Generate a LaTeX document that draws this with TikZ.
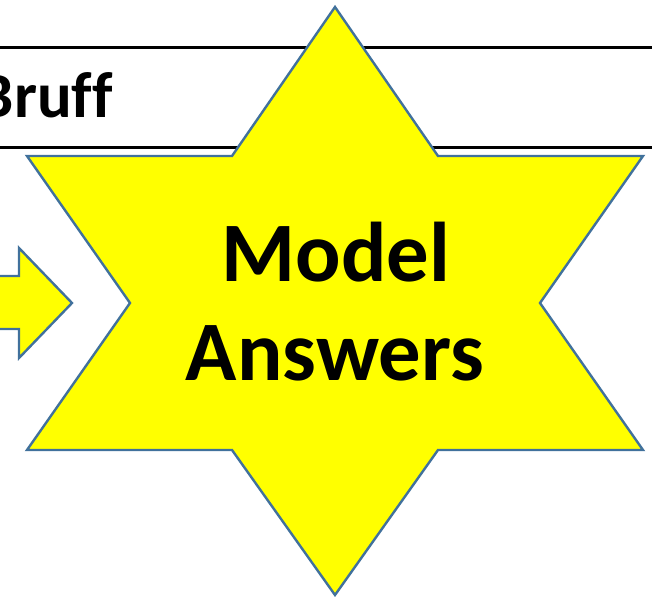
\documentclass[tikz,border=0pt]{standalone}
\usepackage{fontspec}
\setmainfont{Carlito}[Ligatures=NoCommon]
\usetikzlibrary{positioning}
\definecolor{starblue}{RGB}{65,113,156}
\definecolor{staryellow}{RGB}{255,255,0}

\begin{document}
\begin{tikzpicture}[x=1bp, y=-1bp,
    yshape/.style={fill=staryellow, draw=starblue, line width=2.4bp, line join=miter},
    bandline/.style={draw=black, line width=3bp},
    big/.style={font=\bfseries\fontsize{85}{99}\selectfont, inner sep=0pt}]
\useasboundingbox (0,0) rectangle (652,597);
\clip (0,0) rectangle (652,597);
% band at the top
\draw[bandline] (-20,48) -- (672,48) (-20,148) -- (672,148);
\node[anchor=base east, inner sep=0pt, font=\bfseries\fontsize{65}{65}\selectfont] (bruff) at (113,118) {Bruff};
% arrow
\draw[yshape] (-30,276) -- (19,276) -- (19,248) -- (72,303) -- (19,358) -- (19,329) -- (-30,329) -- cycle;
% star
\draw[yshape] (335,7) -- (438,156) -- (643,156) -- (540,303) -- (643,450) -- (438,450)
    -- (335,595) -- (232,450) -- (27,450) -- (130,303) -- (27,156) -- (232,156) -- cycle;
\node[big, anchor=base] (model) at (336,281) {Model};
\node[big, anchor=base] (answers) at (335,380) {Answers};
\end{tikzpicture}
\end{document}
